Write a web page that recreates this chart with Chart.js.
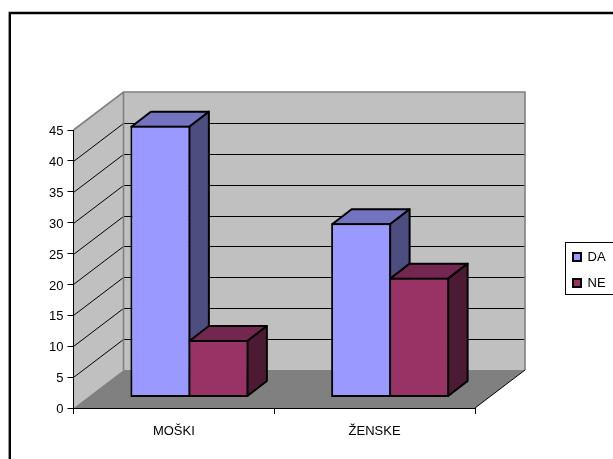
<!DOCTYPE html>
<html>
<head>
<meta charset="utf-8">
<style>
  body { margin: 0; background: #fff; }
  canvas { display: block; }
</style>
<script src="https://cdn.jsdelivr.net/npm/chart.js@4/dist/chart.umd.min.js"></script>
</head>
<body>
<canvas id="barchart" width="613" height="459"></canvas>
<script>
// Values
var categories = ['MOŠKI', 'ŽENSKE'];
var daValues = [44, 28.2];
var neValues = [9.3, 19.4];
var yTickStep = 5;
var yMax = 45;

// 3D look: depth of the walls, where the bars stand on the floor, depth of the bars
var wallDepth = { x: 50, y: -38 };
var barShift = { x: 15.5, y: -10.5 };
var barDepth = { x: 19.5, y: -15 };

var shadeColors = [
    { top: '#7373BF', side: '#4D4D80' },
    { top: '#732650', side: '#4D1A33' }
];

var fontName = '"Liberation Sans", Arial, sans-serif';

function poly(ctx, pts, fill) {
    ctx.beginPath();
    ctx.moveTo(pts[0][0], pts[0][1]);
    for (var i = 1; i < pts.length; i++) ctx.lineTo(pts[i][0], pts[i][1]);
    ctx.closePath();
    ctx.fillStyle = fill;
    ctx.fill();
}

function segment(ctx, x1, y1, x2, y2) {
    ctx.beginPath();
    ctx.moveTo(x1, y1);
    ctx.lineTo(x2, y2);
    ctx.stroke();
}

// Frame, walls, floor and the gridlines on the walls
var backdrop = {
    id: 'backdrop',
    beforeDraw: function (chart) {
        var ctx = chart.ctx;
        var a = chart.chartArea;
        var yScale = chart.scales.y;
        var dx = wallDepth.x, dy = wallDepth.y;
        ctx.save();

        // outer frame, runs off the picture at right and bottom
        ctx.strokeStyle = '#000';
        ctx.lineWidth = 2.4;
        ctx.beginPath();
        ctx.moveTo(9.8, 459);
        ctx.lineTo(9.8, 13);
        ctx.lineTo(613, 13);
        ctx.stroke();

        poly(ctx, [[a.left, a.top], [a.left + dx, a.top + dy], [a.left + dx, a.bottom + dy], [a.left, a.bottom]], '#C0C0C0');
        poly(ctx, [[a.left + dx, a.top + dy], [a.right + dx, a.top + dy], [a.right + dx, a.bottom + dy], [a.left + dx, a.bottom + dy]], '#C0C0C0');
        poly(ctx, [[a.left, a.bottom], [a.left + dx, a.bottom + dy], [a.right + dx, a.bottom + dy], [a.right, a.bottom]], '#808080');

        // gridlines
        ctx.strokeStyle = '#000';
        ctx.lineWidth = 1;
        yScale.ticks.forEach(function (t) {
            if (t.value === 0 || t.value === yMax) return;
            var y = Math.round(yScale.getPixelForValue(t.value)) + 0.5;
            segment(ctx, a.left, y, a.left + dx, y + dy);
            segment(ctx, a.left + dx, y + dy, a.right + dx, y + dy);
        });

        // wall edges
        ctx.strokeStyle = '#808080';
        ctx.lineWidth = 1.6;
        ctx.beginPath();
        ctx.moveTo(a.left, a.top);
        ctx.lineTo(a.left + dx, a.top + dy);
        ctx.lineTo(a.right + dx, a.top + dy);
        ctx.lineTo(a.right + dx, a.bottom + dy);
        ctx.moveTo(a.left + dx, a.top + dy);
        ctx.lineTo(a.left + dx, a.bottom + dy);
        ctx.stroke();

        // front right floor edge
        ctx.strokeStyle = '#000';
        ctx.lineWidth = 1;
        segment(ctx, a.right, a.bottom, a.right + dx, a.bottom + dy);

        // legend box
        ctx.fillStyle = '#fff';
        ctx.lineWidth = 1;
        ctx.fillRect(565.5, 242.5, 48, 52);
        ctx.strokeRect(565.5, 242.5, 48, 52);
        ctx.restore();
    },
    afterLayout: function (chart) {
        var lg = chart.legend;
        lg.left = 560;
        lg.right = lg.left + lg.width;
        lg.top = 237.5;
        lg.bottom = lg.top + lg.height;
    },
    // top and side faces go down first, DA then NE; the library then paints the front faces
    beforeDatasetsDraw: function (chart) {
        var ctx = chart.ctx;
        ctx.save();
        ctx.translate(barShift.x, barShift.y);
        chart.data.datasets.forEach(function (ds, index) {
            var shades = shadeColors[index];
            chart.getDatasetMeta(index).data.forEach(function (bar) {
                var p = bar.getProps(['x', 'y', 'base', 'width'], true);
                var l = p.x - p.width / 2, r = p.x + p.width / 2;
                var dx = barDepth.x, dy = barDepth.y;
                ctx.save();
                ctx.strokeStyle = '#000';
                ctx.lineWidth = 2;
                ctx.lineJoin = 'round';
                poly(ctx, [[l + 1, p.y + 1], [l + 1 + dx, p.y + 1 + dy], [r - 1 + dx, p.y + 1 + dy], [r - 1, p.y + 1]], shades.top);
                ctx.stroke();
                poly(ctx, [[r - 1, p.y + 1], [r - 1 + dx, p.y + 1 + dy], [r - 1 + dx, p.base - 1 + dy], [r - 1, p.base - 1]], shades.side);
                ctx.stroke();
                ctx.restore();
            });
        });
    },
    afterDatasetsDraw: function (chart) {
        chart.ctx.restore();
    }
};

var ctx = document.getElementById('barchart').getContext('2d');

var myBarChart = new Chart(ctx, {
    type: 'bar',
    data: {
        labels: categories,
        datasets: [
            { label: 'DA', data: daValues, backgroundColor: '#9999FF', borderColor: '#000', borderWidth: 2, borderSkipped: false, clip: false, categoryPercentage: 0.578, barPercentage: 1.034 },
            { label: 'NE', data: neValues, backgroundColor: '#993366', borderColor: '#000', borderWidth: 2, borderSkipped: false, clip: false, categoryPercentage: 0.578, barPercentage: 1.034 }
        ]
    },
    options: {
        responsive: false,
        animation: false,
        events: [],
        layout: { padding: { top: 130, right: 138, left: 0, bottom: 0 } },
        font: { family: fontName },
        scales: {
            x: {
                grid: { drawOnChartArea: false, color: '#000', tickLength: 6, offset: true },
                border: { color: '#000', width: 1 },
                ticks: { color: '#000', padding: 10, maxRotation: 0, font: { family: fontName, size: 13 } },
                afterFit: function (scale) { scale.height = 51; }
            },
            y: {
                min: 0,
                max: yMax,
                grid: { drawOnChartArea: false, color: '#000', tickLength: 6 },
                border: { color: '#000', width: 1 },
                ticks: { stepSize: yTickStep, color: '#000', padding: 4, labelOffset: 1.5, font: { family: fontName, size: 13 } },
                afterFit: function (scale) { scale.width = 73.5; }
            }
        },
        plugins: {
            title: { display: false },
            tooltip: { enabled: false },
            legend: {
                position: 'chartArea',
                align: 'start',
                labels: { boxWidth: 8, boxHeight: 8, padding: 13, color: '#000', font: { family: fontName, size: 13 } }
            }
        }
    },
    plugins: [backdrop]
});
</script>
</body>
</html>
